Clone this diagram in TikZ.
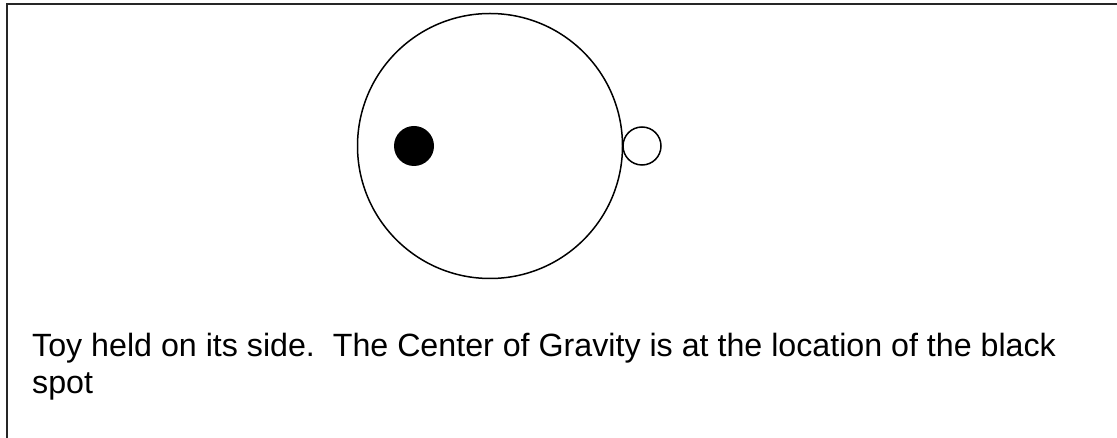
\documentclass[tikz,border=0pt]{standalone}
\usepackage{fontspec}
\setmainfont{Liberation Sans}
\tikzset{
  frameline/.style={line width=1.8pt, draw=black!85},
  outline/.style={draw=black, line width=1.5pt},
  spot/.style={fill=black, draw=none},
  caption/.style={anchor=base west, inner sep=0pt, align=left, font=\fontsize{32.2}{37.2}\selectfont}
}
\begin{document}
\begin{tikzpicture}[x=1pt,y=-1pt]
\useasboundingbox (0,0) rectangle (1117,438);
\coordinate (fbl) at (7,440);
\coordinate (ftl) at (7,4);
\coordinate (ftr) at (1119,4);
\draw[frameline] (fbl) -- (ftl) -- (ftr);
\node[outline, circle, minimum size=265pt, inner sep=0pt] (body) at (490,146) {};
\node[spot, circle, minimum size=40pt, inner sep=0pt] (cg) at (414,146) {};
\node[outline, circle, minimum size=38pt, inner sep=0pt] (knob) at (642,146) {};
\node[caption] (txt) at (32,394) {Toy held on its side.\ \ The Center of Gravity is at the location of the black\\spot};
\end{tikzpicture}
\end{document}
